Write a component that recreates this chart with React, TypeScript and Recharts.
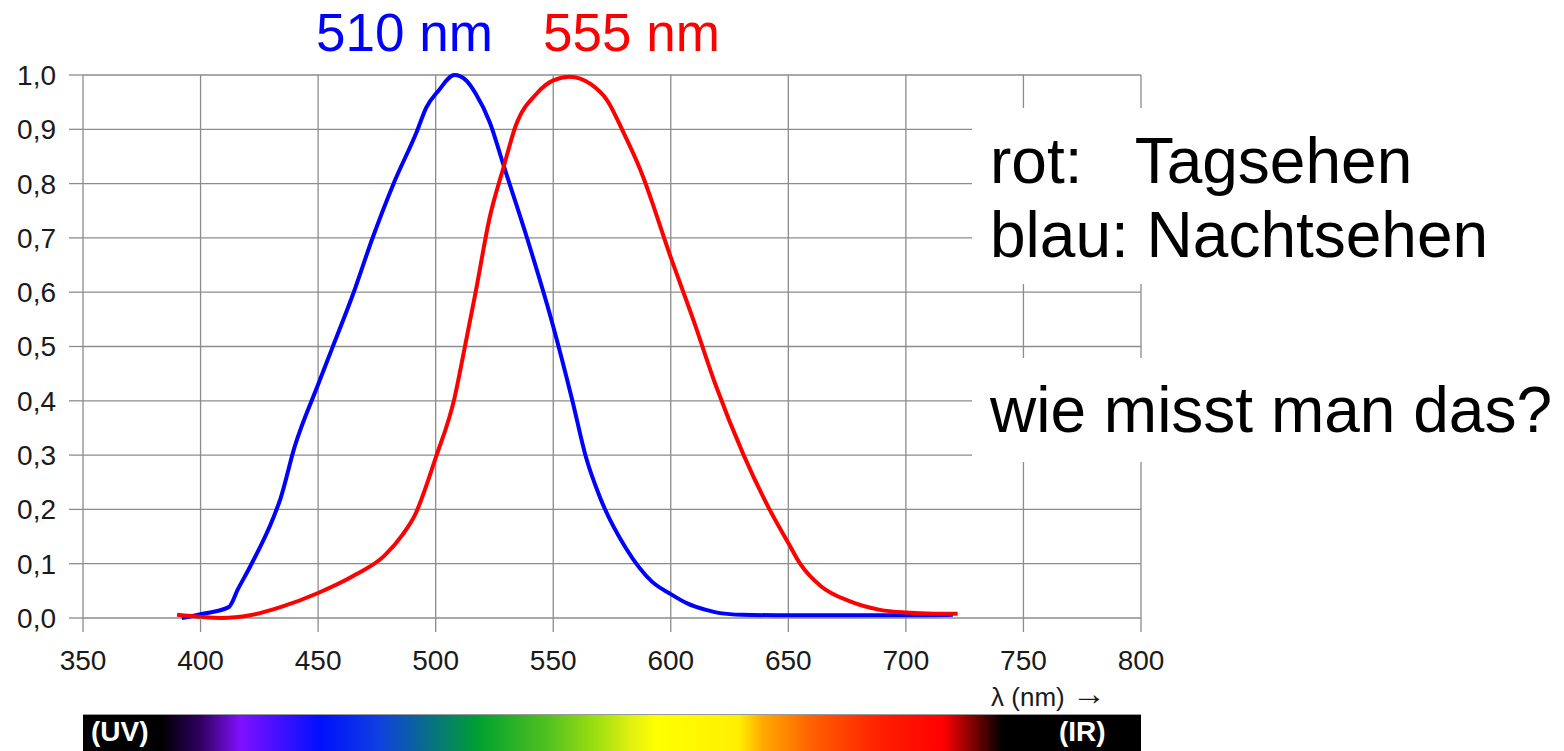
import { CartesianGrid, Line, LineChart, XAxis, YAxis } from "recharts";

// Nachtsehen (scotopic), peak 510 nm
const blueNm = [392, 400, 412, 416, 421, 431, 434, 440, 450, 456, 465, 473, 482, 492, 496, 501, 508, 513, 517, 523, 529, 539, 550, 558, 564, 570, 581, 592, 600, 607, 615, 621, 630, 650, 680, 700, 720];
const blueV = [0, 0.007, 0.02, 0.054, 0.094, 0.185, 0.22, 0.315, 0.43, 0.497, 0.598, 0.698, 0.799, 0.896, 0.94, 0.97, 1.0, 0.99, 0.966, 0.913, 0.832, 0.698, 0.537, 0.403, 0.295, 0.221, 0.128, 0.067, 0.044, 0.027, 0.015, 0.009, 0.006, 0.005, 0.005, 0.005, 0.006];

// Tagsehen (photopic), peak 555 nm
const redNm = [390, 400, 409, 421, 434, 450, 466, 478, 486, 491, 500, 508, 512, 517, 523, 529, 534, 543, 550, 557, 566, 573, 580, 587, 600, 610, 619, 631, 642, 650, 655, 664, 676, 689, 700, 712, 722];
const redV = [0.006, 0.002, 0, 0.005, 0.02, 0.046, 0.08, 0.114, 0.154, 0.188, 0.295, 0.405, 0.49, 0.6, 0.738, 0.832, 0.906, 0.966, 0.99, 0.997, 0.983, 0.953, 0.893, 0.826, 0.664, 0.544, 0.43, 0.3, 0.2, 0.138, 0.1, 0.058, 0.031, 0.015, 0.01, 0.008, 0.008];

const xTicks = [350, 400, 450, 500, 550, 600, 650, 700, 750, 800];
const yTicks = [0, 0.1, 0.2, 0.3, 0.4, 0.5, 0.6, 0.7, 0.8, 0.9, 1.0];

// colour bar under the axis
const spectrumNm = [350, 383, 400, 417, 434, 451, 476, 495, 518, 547, 569, 583, 594, 629, 639, 660, 689, 716, 741, 800];
const spectrumColors = ["#000000", "#000000", "#300060", "#8010ff", "#4010ff", "#0010ff", "#1040e0", "#0a6a90", "#00a030", "#50c020", "#a0e010", "#e0f010", "#ffff00", "#fff000", "#ffaa00", "#ff6000", "#ff2000", "#ff0000", "#000000", "#000000"];

const FONT = '"Liberation Sans", Arial, sans-serif';
const GRID = "#8c8c8c";

const toPoints = (nm: number[], v: number[]) => nm.map((x, i) => ({ nm: x, v: v[i] }));

const gradient = `linear-gradient(to right, ${spectrumNm
  .map((nm, i) => `${spectrumColors[i]} ${(((nm - 350) / 450) * 100).toFixed(2)}%`)
  .join(", ")})`;

const text = (extra: React.CSSProperties): React.CSSProperties => ({
  position: "absolute",
  fontFamily: FONT,
  lineHeight: 1,
  whiteSpace: "pre",
  margin: 0,
  ...extra,
});

export default function App() {
  return (
    <div style={{ position: "absolute", left: 0, top: 0, width: 1564, height: 751, background: "#fff", overflow: "hidden" }}>
      <LineChart width={1564} height={751} margin={{ top: 75, right: 423, bottom: 93, left: 23 }}>
        <CartesianGrid stroke={GRID} strokeWidth={1.3} />
        <XAxis
          type="number"
          dataKey="nm"
          domain={[350, 800]}
          ticks={xTicks}
          interval={0}
          height={40}
          tickSize={14}
          tickMargin={18}
          axisLine={false}
          tickLine={{ stroke: GRID, strokeWidth: 1.3 }}
          tick={{ fontSize: 28, fill: "#1a1a1a", fontFamily: FONT }}
        />
        <YAxis
          type="number"
          domain={[0, 1]}
          ticks={yTicks}
          interval={0}
          width={60}
          tickSize={14}
          tickMargin={13}
          axisLine={false}
          tickLine={{ stroke: GRID, strokeWidth: 1.3 }}
          tick={{ fontSize: 28, fill: "#1a1a1a", fontFamily: FONT }}
          tickFormatter={(v: number) => v.toFixed(1).replace(".", ",")}
        />
        <Line
          data={toPoints(blueNm, blueV)}
          dataKey="v"
          type="monotone"
          stroke="#0000ff"
          strokeWidth={4}
          dot={false}
          isAnimationActive={false}
        />
        <Line
          data={toPoints(redNm, redV)}
          dataKey="v"
          type="monotone"
          stroke="#ff0000"
          strokeWidth={4}
          dot={false}
          isAnimationActive={false}
        />
      </LineChart>

      <div style={text({ left: 316, top: 6, fontSize: 53, color: "#0000ff" })}>510 nm</div>
      <div style={text({ left: 543, top: 6, fontSize: 53, color: "#ff0000" })}>555 nm</div>

      <div style={{ position: "absolute", left: 972, top: 108, width: 592, height: 176, background: "#fff" }} />
      <div style={{ position: "absolute", left: 972, top: 358, width: 592, height: 104, background: "#fff" }} />
      <div style={text({ left: 990, top: 129, fontSize: 64, color: "#000" })}>rot:   Tagsehen</div>
      <div style={text({ left: 990, top: 203, fontSize: 64, color: "#000" })}>blau: Nachtsehen</div>
      <div style={text({ left: 990, top: 378, fontSize: 64, color: "#000" })}>wie misst man das?</div>

      <div style={text({ right: 458, top: 684, fontSize: 26, color: "#1a1a1a", textAlign: "right" })}>
        λ (nm) <span style={{ fontSize: 34, lineHeight: 0.6, position: "relative", top: -1 }}>→</span>
      </div>

      <div
        style={{
          position: "absolute",
          left: 83,
          top: 714,
          width: 1058,
          height: 40,
          background: gradient,
          borderTop: "1px solid #999",
        }}
      />
      <div style={text({ left: 91, top: 718, fontSize: 28, fontWeight: "bold", color: "#fff" })}>(UV)</div>
      <div style={text({ left: 1059, top: 718, fontSize: 28, fontWeight: "bold", color: "#fff" })}>(IR)</div>
    </div>
  );
}
